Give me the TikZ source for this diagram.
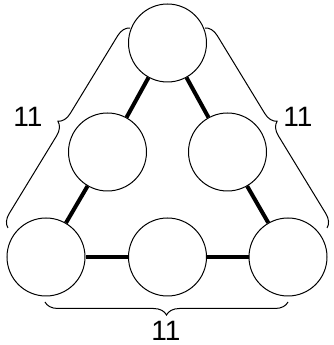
\documentclass[tikz,border=0pt]{standalone}
\usepackage{fontspec}
\setmainfont{Liberation Sans}
\usetikzlibrary{decorations.pathreplacing}

\tikzset{
    ball/.style={circle, draw, line width=1pt, minimum size=78pt, inner sep=0pt},
    edge/.style={line width=4pt},
    bracket/.style={decorate, decoration={brace, amplitude=13pt}, line width=1pt},
    count/.style={font=\fontsize{28}{30}\selectfont, inner sep=0pt}
}

\begin{document}
\begin{tikzpicture}[x=1pt, y=1pt]
    \useasboundingbox (0,0) rectangle (333,345);
    \node[ball] (top) at (167.5, 302) {};
    \node[ball] (midl) at (107.5, 193) {};
    \node[ball] (midr) at (227.5, 193) {};
    \node[ball] (botl) at (46, 88) {};
    \node[ball] (botm) at (167.5, 88) {};
    \node[ball] (botr) at (288, 88) {};
    \draw[edge] (top) -- (midl) (midl) -- (botl);
    \draw[edge] (top) -- (midr) (midr) -- (botr);
    \draw[edge] (botl) -- (botm) (botm) -- (botr);
    % brace ends
    \coordinate (lb) at (8, 117);
    \coordinate (lt) at (130, 317);
    \coordinate (rt) at (205, 317);
    \coordinate (rb) at (327, 117);
    \coordinate (br) at (288, 43);
    \coordinate (bl) at (45, 43);
    \draw[bracket] (lb) -- (lt);
    \draw[bracket] (rt) -- (rb);
    \draw[bracket] (br) -- (bl);
    \node[count] (left) at (28, 228) {11};
    \node[count] (right) at (298, 228) {11};
    \node[count] (bottom) at (166, 14) {11};
\end{tikzpicture}
\end{document}
